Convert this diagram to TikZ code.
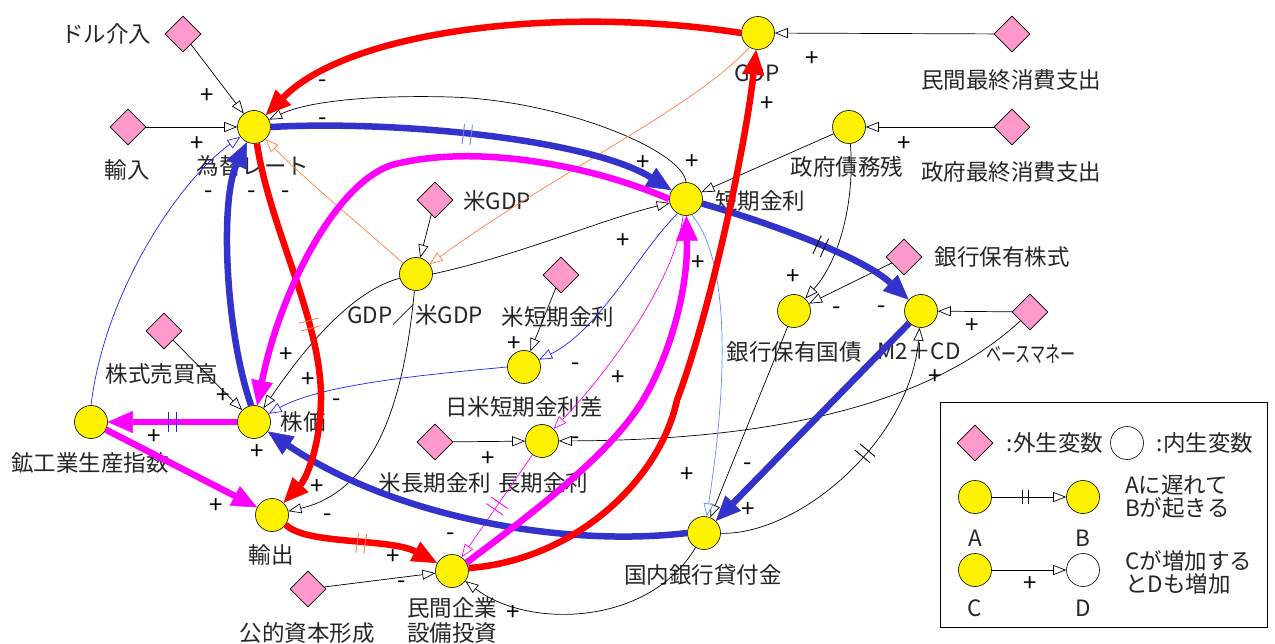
\documentclass[tikz,border=0pt]{standalone}
\usepackage{fontspec}
\usepackage{graphicx}
\setmainfont{Noto Sans CJK JP}
\usetikzlibrary{shapes.geometric,arrows.meta,decorations.markings}
\definecolor{exopink}{HTML}{FF99CC}
\definecolor{thkblue}{HTML}{3333CC}
\definecolor{thnblue}{HTML}{2020FF}
\definecolor{ltblue}{HTML}{5B8CFF}
\definecolor{mag}{HTML}{FF00FF}
\definecolor{org}{HTML}{FF7F3F}
\definecolor{rd}{HTML}{FF0000}
\newcommand{\lblf}{\fontsize{22.5}{25}\selectfont}
\newcommand{\sgnf}{\fontsize{24}{26}\selectfont}
\tikzset{
  endo/.style={circle, draw=black, fill=yellow, line width=0.6pt, minimum size=33pt, inner sep=0pt},
  endow/.style={endo, fill=white},
  exo/.style={diamond, draw=black, fill=exopink, line width=0.6pt, minimum size=36pt, inner sep=0pt},
  lab/.style={font=\lblf, inner sep=0pt, text=black!85},
  sgn/.style={font=\sgnf, inner sep=0pt},
  lk/.style={draw=#1, line width=0.7pt, -{Triangle[fill=white, length=13pt, width=10pt]}},
  lk/.default=black,
  thk/.style={draw=#1, line width=6.5pt, -{Triangle[length=25pt, width=22pt, line width=0.5pt]}},
  tks/.style 2 args={postaction={decorate,decoration={markings,mark=at position #1 with {\draw[-,#2,line width=0.9pt] (-4pt,-10pt)--(-4pt,10pt) (4pt,-10pt)--(4pt,10pt);}}}},
  stks/.style 2 args={postaction={decorate,decoration={markings,mark=at position #1 with {\draw[-,#2,line width=0.8pt] (-3pt,-7pt)--(-3pt,7pt) (3pt,-7pt)--(3pt,7pt);}}}},
}
\begin{document}
\begin{tikzpicture}[x=1pt,y=-1pt]
\fill[white] (0,0) rectangle (1275,644);
\useasboundingbox (0,0) rectangle (1275,644);

% endogenous variables
\node[endo] (rate) at (254,127) {};
\node[endo] (gdp) at (758,33) {};
\node[endo] (debt) at (849,127) {};
\node[endo] (short) at (686,199) {};
\node[endo] (ratio) at (416,274) {};
\node[endo] (diff) at (524,367) {};
\node[endo] (stock) at (254,422) {};
\node[endo] (ind) at (91,422) {};
\node[endo] (exp) at (272,515) {};
\node[endo] (inv) at (452,571) {};
\node[endo] (long) at (542,441) {};
\node[endo] (bond) at (794,311) {};
\node[endo] (m2) at (921,311) {};
\node[endo] (loan) at (704,533) {};
% exogenous variables
\node[exo] (dollar) at (183,34) {};
\node[exo] (imp) at (128,127) {};
\node[exo] (cons) at (1012,34) {};
\node[exo] (gov) at (1012,127) {};
\node[exo] (usgdp) at (435,200) {};
\node[exo] (usshort) at (561,275) {};
\node[exo] (vol) at (164,331) {};
\node[exo] (pub) at (308,589) {};
\node[exo] (uslong) at (435,442) {};
\node[exo] (bstock) at (904,257) {};
\node[exo] (base) at (1030,312) {};

% labels
\node[lab] (rate-l) at (253,166) {為替レート};
\node[lab] (gdp-l) at (757,73) {GDP};
\node[lab] (debt-l) at (847,167) {政府債務残};
\node[lab] (short-l) at (760,201) {短期金利};
\node[lab] (ratio-l) at (415,315) {GDP／米GDP};
\node[lab] (diff-l) at (524,407) {日米短期金利差};
\node[lab] (stock-l) at (303,422) {株価};
\node[lab] (ind-l) at (90,463) {鉱工業生産指数};
\node[lab] (exp-l) at (271,555) {輸出};
\node[lab,align=center] (inv-l) at (452,620) {民間企業\\設備投資};
\node[lab] (long-l) at (543,483) {長期金利};
\node[lab] (bond-l) at (794,352) {銀行保有国債};
\node[lab] (m2-l) at (919,351) {M2＋CD};
\node[lab] (loan-l) at (703,575) {国内銀行貸付金};
\node[lab] (dollar-l) at (106,34) {ドル介入};
\node[lab] (imp-l) at (127,170) {輸入};
\node[lab] (cons-l) at (1011,80) {民間最終消費支出};
\node[lab] (gov-l) at (1011,172) {政府最終消費支出};
\node[lab] (usgdp-l) at (497,201) {米GDP};
\node[lab] (usshort-l) at (558,317) {米短期金利};
\node[lab] (vol-l) at (162,374) {株式売買高};
\node[lab] (pub-l) at (307,633) {公的資本形成};
\node[lab] (uslong-l) at (435,483) {米長期金利};
\node[lab] (bstock-l) at (1002,257) {銀行保有株式};
\node[lab] (base-l) at (1031,354) {\scalebox{0.67}[1]{ベースマネー}};

% thin black links
\draw[lk] (dollar) -- (rate);
\draw[lk] (imp) -- (rate);
\draw[lk] (short.north) .. controls (683,150) and (560,100) .. (450,97) .. controls (380,95) and (310,100) .. (rate);
\draw[lk] (ratio.east) .. controls (520,255) and (600,220) .. (short);
\draw[lk] (usgdp) -- (ratio);
\draw[lk] (ratio) .. controls (355,290) and (310,340) .. (stock);
\draw[lk] (ratio) .. controls (405,390) and (380,490) .. (exp);
\draw[lk] (vol) -- (stock);
\draw[lk] (usshort) -- (diff);
\draw[lk] (uslong) -- (long);
\draw[lk] (base) .. controls (940,395) and (800,440) .. (long);
\draw[lk] (debt) -- (short);
\draw[lk] (gov) -- (debt);
\draw[lk] (cons) -- (gdp);
\draw[lk] (debt) .. controls (855,200) and (840,260) .. (bond);
\draw[lk] (bstock) -- (bond);
\draw[lk] (base) -- (m2);
\draw[lk] (bond) -- (loan);
\draw[lk, tks={0.55}{black}] (loan) .. controls (800,535) and (910,440) .. (m2);
\draw[lk] (loan) .. controls (650,625) and (530,630) .. (inv);
\draw[lk] (pub) -- (inv);

% thin coloured links
\draw[lk=org] (gdp.-120) .. controls (690,110) and (560,170) .. (ratio);
\draw[lk=org] (ratio.140) .. controls (360,225) and (300,175) .. (rate);
\draw[lk=thnblue] (ind.north) .. controls (105,290) and (180,180) .. (rate);
\draw[lk=thnblue] (diff.west) .. controls (420,375) and (320,385) .. (stock);
\draw[lk=thnblue] (short.-120) .. controls (640,250) and (600,330) .. (diff);
\draw[lk=mag] (short.-100) .. controls (675,280) and (610,370) .. (long);
\draw[lk=mag, tks={0.5}{mag}] (long) -- (inv);
\draw[lk=ltblue] (short.-70) .. controls (730,260) and (728,380) .. (loan);

% thick links
\draw[thk=thkblue, tks={0.48}{ltblue}] (rate.east) .. controls (400,120) and (590,140) .. (short);
\draw[thk=thkblue] (stock.100) .. controls (225,330) and (220,200) .. (rate);
\draw[thk=thkblue] (loan.west) .. controls (560,548) and (390,515) .. (stock);
\draw[thk=thkblue, tks={0.55}{black}] (short) .. controls (760,220) and (860,255) .. (m2);
\draw[thk=thkblue] (m2) -- (loan);
\draw[thk=rd] (gdp.west) .. controls (560,5) and (350,30) .. (rate);
\draw[thk=rd, tks={0.5}{org}] (rate.-80) .. controls (270,230) and (322,320) .. (321,400) .. controls (320,450) and (305,480) .. (exp);
\draw[thk=rd, tks={0.5}{org}] (exp.-35) .. controls (305,545) and (390,538) .. (inv);
\draw[thk=rd] (inv.10) .. controls (575,560) and (660,480) .. (677,400) .. controls (709,316) and (745,150) .. (gdp);
\draw[thk=mag] (short.west) .. controls (590,165) and (480,145) .. (400,163) .. controls (340,173) and (280,290) .. (stock);
\draw[thk=mag, tks={0.5}{thnblue}] (stock) -- (ind);
\draw[thk=mag] (ind) -- (exp);
\draw[thk=mag] (inv.30) .. controls (530,515) and (610,455) .. (643,400) .. controls (670,355) and (688,290) .. (short);

% polarity signs
\foreach \px/\py/\s [count=\i] in {207/96/+, 197/144/+, 323/84/-, 323/122/-, 209/195/-, 252/195/-, 286/195/-,
  812/59/+, 767/104/+, 643/163/+, 692/162/+, 904/144/+, 286/355/+, 308/380/+, 337/403/-, 223/396/+, 154/437/+,
  623/241/+, 698/263/+, 793/277/+, 837/311/-, 514/344/+, 576/367/-, 618/378/+, 882/310/-, 972/326/+, 935/377/+,
  257/452/+, 317/487/+, 216/506/+, 328/518/-, 393/557/+, 402/585/-, 488/459/+, 451/537/-, 687/475/+, 748/467/-,
  748/510/+, 513/613/+, 576/441/-}
  \node[sgn] (sg\i) at (\px,\py) {\s};

% legend
\node[draw=black, line width=0.8pt, fill=white, minimum width=327pt, minimum height=225pt, inner sep=0pt, anchor=north west] (legend) at (940,402) {};
\node[exo] (lg-exo) at (975,443) {};
\node[lab] (lg-exo-t) at (1055,443) {:外生変数};
\node[endow] (lg-endo) at (1127,443) {};
\node[lab] (lg-endo-t) at (1205,443) {:内生変数};
\node[endo] (lgA) at (975,497) {};
\node[endo] (lgB) at (1083,497) {};
\draw[lk, stks={0.45}{black}] (lgA) -- (lgB);
\node[lab, anchor=west] (lg-t1) at (1125,485) {Aに遅れて};
\node[lab, anchor=west] (lg-t2) at (1125,508) {Bが起きる};
\node[lab] (lg-A) at (975,538) {A};
\node[lab] (lg-B) at (1083,538) {B};
\node[endo] (lgC) at (975,570) {};
\node[endow] (lgD) at (1083,570) {};
\draw[lk] (lgC) -- (lgD);
\node[sgn] (lg-plus) at (1030,584) {+};
\node[lab, anchor=west] (lg-t3) at (1125,561) {Cが増加する};
\node[lab, anchor=west] (lg-t4) at (1125,584) {とDも増加};
\node[lab] (lg-C) at (975,608) {C};
\node[lab] (lg-D) at (1083,608) {D};
\end{tikzpicture}
\end{document}
